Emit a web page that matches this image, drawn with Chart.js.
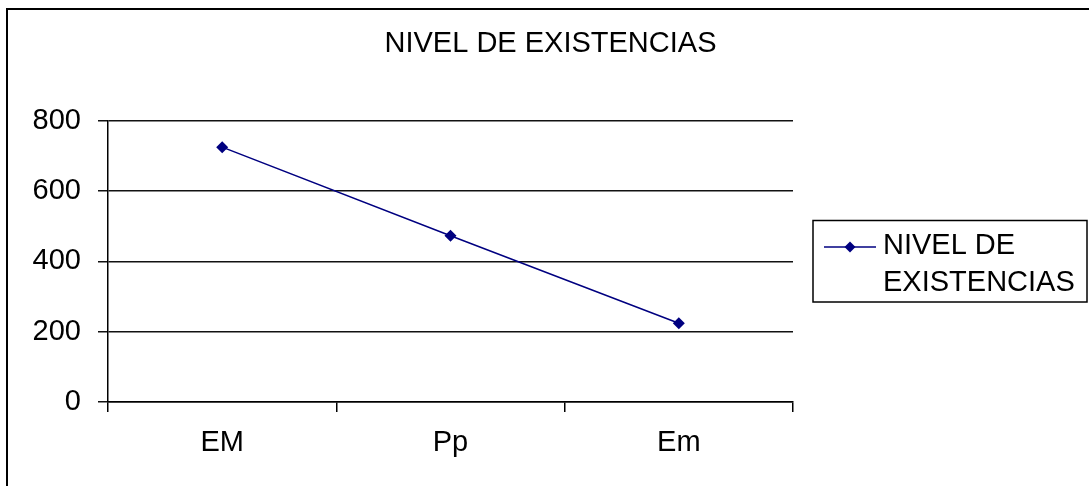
<!DOCTYPE html>
<html>
<head>
<meta charset="utf-8">
<script src="https://cdn.jsdelivr.net/npm/chart.js@4.4.1/dist/chart.umd.min.js"></script>
<style>
  html, body { margin: 0; padding: 0; background: #fff; overflow: hidden; }
  #wrap { position: relative; width: 1089px; height: 486px; }
  #frame { position: absolute; left: 6px; top: 8px; width: 1200px; height: 600px; border: 2px solid #000; box-sizing: border-box; pointer-events: none; }
  canvas { position: absolute; left: 0; top: 0; }
</style>
</head>
<body>
<div id="wrap">
  <canvas id="c" width="1089" height="486"></canvas>
  <div id="frame"></div>
</div>
<script>
const chartTitle = "NIVEL DE EXISTENCIAS";
const categories = ["EM", "Pp", "Em"];
const seriesName = "NIVEL DE EXISTENCIAS";
const seriesLegendLines = ["NIVEL DE", "EXISTENCIAS"];
const seriesValues = [725, 473, 224];
const yTicks = [0, 200, 400, 600, 800];

const FONT = "'Liberation Sans', Arial, sans-serif";
const NAVY = "#000080";

const boxedLegend = {
  id: "boxedLegend",
  afterDraw(chart) {
    const ctx = chart.ctx;
    ctx.save();
    ctx.strokeStyle = "#000";
    ctx.lineWidth = 1.5;
    ctx.strokeRect(813, 220.5, 274, 81.5);
    ctx.strokeStyle = NAVY;
    ctx.lineWidth = 1.5;
    ctx.beginPath();
    ctx.moveTo(824, 247);
    ctx.lineTo(876, 247);
    ctx.stroke();
    ctx.fillStyle = NAVY;
    ctx.beginPath();
    ctx.moveTo(850, 241.5);
    ctx.lineTo(855.5, 247);
    ctx.lineTo(850, 252.5);
    ctx.lineTo(844.5, 247);
    ctx.closePath();
    ctx.fill();
    ctx.fillStyle = "#000";
    ctx.font = "29px " + FONT;
    ctx.textBaseline = "alphabetic";
    ctx.textAlign = "left";
    ctx.fillText(seriesLegendLines[0], 883, 254);
    ctx.fillText(seriesLegendLines[1], 883, 291);
    ctx.restore();
  }
};

new Chart(document.getElementById("c"), {
  type: "line",
  data: {
    labels: categories,
    datasets: [{
      label: seriesName,
      data: seriesValues,
      yAxisID: "y",
      borderColor: NAVY,
      backgroundColor: NAVY,
      borderWidth: 1.5,
      pointStyle: "rectRot",
      pointRadius: 6,
      pointHoverRadius: 6,
      pointBackgroundColor: NAVY,
      pointBorderColor: NAVY,
      pointBorderWidth: 0,
      tension: 0,
      fill: false
    }]
  },
  options: {
    responsive: false,
    animation: false,
    devicePixelRatio: 1,
    layout: { padding: { left: 12, right: 0, top: 0, bottom: 0 } },
    plugins: {
      legend: { display: false },
      tooltip: { enabled: false },
      title: {
        display: true,
        text: chartTitle,
        color: "#000",
        font: { family: FONT, size: 29, weight: "normal" },
        padding: { top: 27, bottom: 59 }
      }
    },
    scales: {
      x: {
        type: "category",
        offset: true,
        grid: {
          display: true,
          offset: true,
          drawOnChartArea: false,
          drawTicks: true,
          tickLength: 10,
          color: "#000",
          lineWidth: 1.5
        },
        border: { display: true, color: "#000", width: 1.5 },
        ticks: {
          color: "#000",
          font: { family: FONT, size: 29 },
          padding: 14,
          maxRotation: 0
        },
        afterFit(scale) { scale.height = 84; }
      },
      y: {
        min: 0,
        max: 800,
        afterBuildTicks(scale) { scale.ticks = yTicks.map(v => ({ value: v })); },
        grid: {
          display: true,
          drawOnChartArea: true,
          drawTicks: true,
          tickLength: 10,
          color: "#111",
          lineWidth: 1.5
        },
        border: { display: true, color: "#000", width: 1.5 },
        ticks: {
          color: "#000",
          font: { family: FONT, size: 29 },
          padding: 17
        },
        afterFit(scale) { scale.width = 96; }
      },
      spacer: {
        type: "linear",
        position: "right",
        display: true,
        min: 0,
        max: 800,
        grid: { display: false, drawTicks: false },
        border: { display: false },
        ticks: { display: false },
        afterFit(scale) { scale.width = 296; }
      }
    }
  },
  plugins: [boxedLegend]
});
</script>
</body>
</html>
